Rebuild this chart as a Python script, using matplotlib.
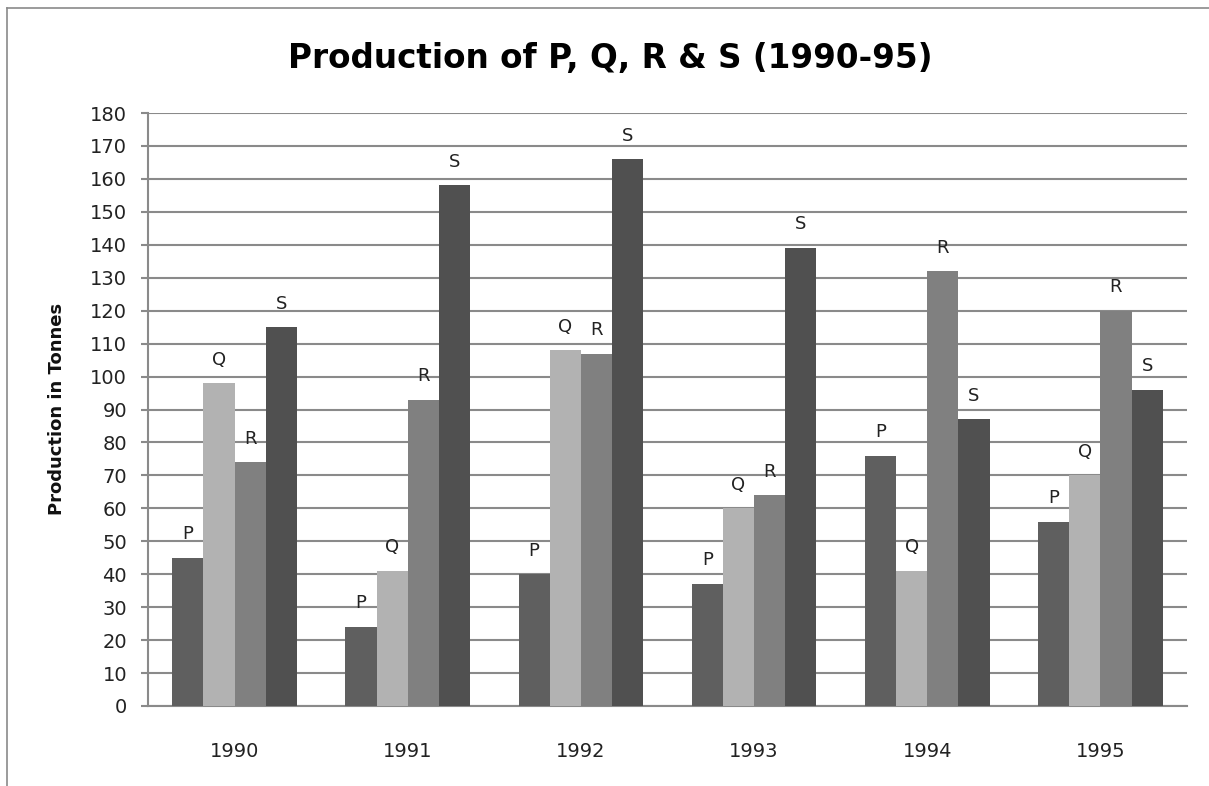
# Production of P, Q, R & S, grouped bar chart

import numpy as np
import matplotlib.pyplot as plt
from matplotlib import font_manager

years = ['1990', '1991', '1992', '1993', '1994', '1995']
products = ['P', 'Q', 'R', 'S']

P = [45, 24, 40, 37, 76, 56]
Q = [98, 41, 108, 60, 41, 70]
R = [74, 93, 107, 64, 132, 120]
S = [115, 158, 166, 139, 87, 96]

series = [P, Q, R, S]
colors = ['#5f5f5f', '#b2b2b2', '#808080', '#505050']

# narrow bold face for the title if one is there
names = {f.name for f in font_manager.fontManager.ttflist}
if 'Liberation Sans Narrow' in names:
    title_font, title_size = 'Liberation Sans Narrow', 29
elif 'DejaVu Sans Condensed' in names:
    title_font, title_size = 'DejaVu Sans Condensed', 26.3
else:
    title_font, title_size = 'DejaVu Sans', 23.5

fig = plt.figure(figsize=(12.09, 7.86), dpi=100)
ax = fig.add_axes([0.1224, 0.1018, 0.8594, 0.7544])

x = np.arange(len(years))
w = 0.18
for i, (vals, c, name) in enumerate(zip(series, colors, products)):
    xs = x + (i - 1.5) * w
    ax.bar(xs, vals, width=w, color=c, zorder=3)
    for xi, v in zip(xs, vals):
        ax.annotate(name, (xi, v), xytext=(0, 17), textcoords='offset points',
                    ha='center', va='center', fontsize=13, color='#222222')

ax.set_xlim(-0.5, len(years) - 0.5)
ax.set_ylim(0, 180)
ax.set_yticks(np.arange(0, 181, 10))
ax.set_xticks(x)
ax.set_xticklabels(years)

ax.grid(axis='y', color='#8a8a8a', linewidth=1.5, zorder=0)
for s in ['top', 'right']:
    ax.spines[s].set_visible(False)
for s in ['left', 'bottom']:
    ax.spines[s].set_color('#8a8a8a')
    ax.spines[s].set_linewidth(1.5)

ax.tick_params(axis='y', length=5, width=1.5, color='#8a8a8a', pad=10,
               labelsize=14, labelcolor='#222222')
ax.tick_params(axis='x', length=0, pad=26, labelsize=14, labelcolor='#222222')

fig.text(0.047, 0.48, 'Production in Tonnes', rotation=90, ha='center', va='center',
         fontsize=13, fontweight='bold', color='#111111')
fig.text(0.5045, 0.926, 'Production of P, Q, R & S (1990-95)', ha='center', va='center',
         fontsize=title_size, fontweight='bold', family=title_font, color='#000000')

# outer chart frame, only top and left edges show in the picture
fig.add_artist(plt.Line2D([0.0058, 1.0], [0.9898, 0.9898], color='#8a8a8a', lw=1.2))
fig.add_artist(plt.Line2D([0.0058, 0.0058], [0.0, 0.9898], color='#8a8a8a', lw=1.2))

fig.savefig('out.png', dpi=100)
